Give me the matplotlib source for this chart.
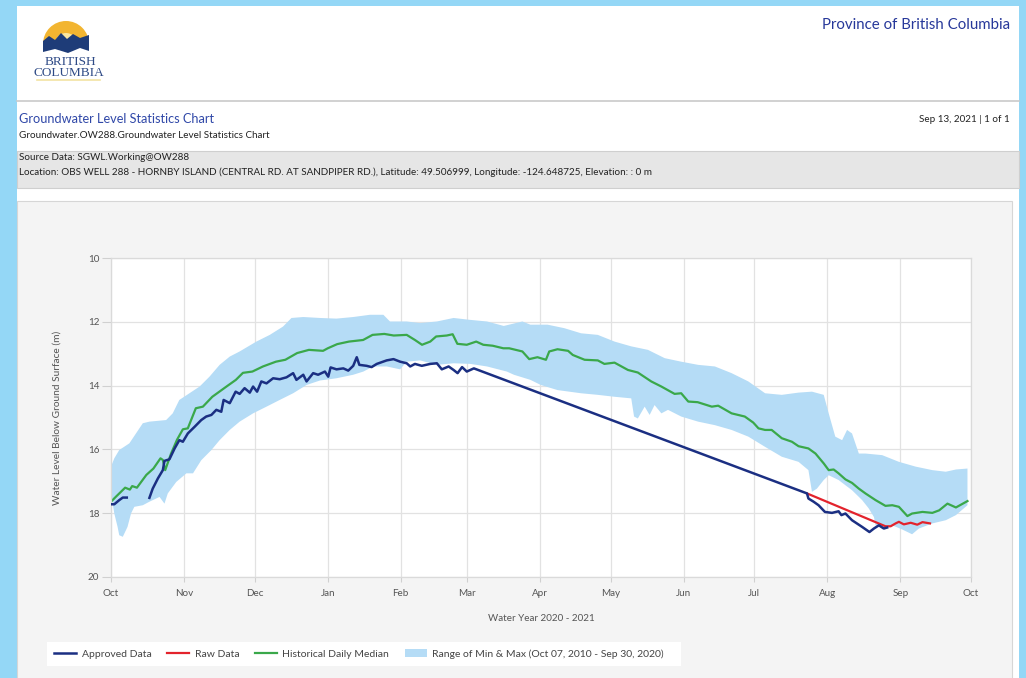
import datetime as dt
import matplotlib
matplotlib.use("Agg")
import matplotlib.pyplot as plt
import matplotlib.dates as mdates
from matplotlib.patches import Rectangle, Wedge, Polygon

plt.rcParams['font.family'] = ['Lato', 'DejaVu Sans']

# ---- data (days since Oct 1, 2020 / metres below ground) ----
median_days = [0, 2, 6, 8, 9, 11, 15, 18, 21, 22, 23, 25.5, 28, 30.5, 32.6, 34, 36, 39, 43, 49,
               53, 56, 60, 64.5, 70, 74, 79, 84, 90, 92, 96, 101, 107, 111, 116, 120, 125.5,
               129, 132, 135.5, 138, 142.5, 145, 147, 151, 155, 158, 162, 166.5, 169, 174.6,
               177.5, 181, 184.6, 186, 189.5, 194, 196, 201, 206.6, 209.4, 213.7, 219.4,
               223.6, 229.3, 233.6, 239.2, 242, 245, 249, 255, 257.7, 263.4, 269, 272.6,
               274.8, 277.6, 280.4, 284.7, 289, 291.8, 296, 299, 302.5, 304.6, 306.7, 308.8,
               311.7, 314.5, 317.4, 320.2, 324.5, 328.7, 331.6, 334.4, 338, 340, 344.4,
               348.6, 351.5, 355, 358.6, 363.5]
median_vals = [17.64, 17.49, 17.2, 17.26, 17.15, 17.2, 16.8, 16.6, 16.28, 16.33, 16.65, 16.13,
               15.7, 15.37, 15.34, 15.08, 14.71, 14.66, 14.35, 14.03, 13.82, 13.6, 13.56, 13.4,
               13.25, 13.19, 12.98, 12.88, 12.91, 12.83, 12.7, 12.62, 12.57, 12.41, 12.38,
               12.43, 12.41, 12.57, 12.72, 12.62, 12.46, 12.43, 12.39, 12.69, 12.72, 12.62,
               12.72, 12.75, 12.83, 12.83, 12.93, 13.17, 13.11, 13.19, 12.93, 12.86, 12.91,
               13.04, 13.19, 13.21, 13.32, 13.28, 13.51, 13.59, 13.87, 14.03, 14.26, 14.24,
               14.5, 14.52, 14.66, 14.63, 14.87, 14.97, 15.16, 15.34, 15.39, 15.39, 15.65,
               15.76, 15.9, 15.97, 16.13, 16.44, 16.65, 16.63, 16.75, 16.94, 17.05, 17.23,
               17.38, 17.59, 17.77, 17.75, 17.8, 18.09, 18.01, 17.96, 17.99, 17.91, 17.7,
               17.82, 17.62]

approved1_days = [0, 1.4, 3.5, 5, 6.7]
approved1_vals = [17.72, 17.72, 17.59, 17.51, 17.51]

approved2_days = [16.3, 17.7, 19.9, 22, 22.7, 24.8, 27, 29, 30.5, 32.6, 35.5, 38.3, 40.4, 42.6,
                  44.7, 46.8, 47.8, 50.4, 52.9, 54.6, 56.7, 58.9, 60.3, 62, 63.8, 66, 68.8,
                  71.6, 74.5, 77.3, 78.7, 81.6, 83, 85.8, 87.9, 90.8, 92.2, 93.2, 95.7, 98.6,
                  100.7, 102.8, 104.3, 105.4, 108.5, 110.6, 112.8, 117, 119.9, 122.7, 125.5,
                  127, 129, 131.9, 135.5, 138.3, 140.4, 143.3, 145.4, 147.1, 149, 151, 154,
                  295.4, 296, 298.2, 300.3, 303, 306, 308.8, 310, 311.7, 314.5, 318.8, 321.9,
                  323.8, 325.9, 328, 329.4]
approved2_vals = [17.52, 17.23, 16.91, 16.65, 16.36, 16.31, 15.97, 15.71, 15.76, 15.5, 15.29,
                  15.08, 14.97, 14.92, 14.76, 14.82, 14.45, 14.55, 14.19, 14.26, 14.08, 14.22,
                  14.03, 14.19, 13.87, 13.93, 13.77, 13.8, 13.74, 13.61, 13.82, 13.66, 13.87,
                  13.61, 13.66, 13.56, 13.72, 13.43, 13.49, 13.46, 13.53, 13.38, 13.11, 13.35,
                  13.38, 13.42, 13.32, 13.21, 13.17, 13.25, 13.3, 13.4, 13.32, 13.38, 13.32,
                  13.3, 13.49, 13.4, 13.51, 13.61, 13.42, 13.56, 13.46,
                  17.38, 17.54, 17.64, 17.75, 17.96, 17.99, 17.94, 18.06, 18.01, 18.22, 18.43,
                  18.59, 18.48, 18.38, 18.48, 18.45]

raw_days = [295.4, 328.7, 330.9, 333, 334.4, 336.5, 339.4, 342.2, 344.4, 347.6]
raw_vals = [17.38, 18.41, 18.41, 18.32, 18.27, 18.35, 18.3, 18.36, 18.28, 18.32]

band_top_days = [0, 1.4, 3.5, 7.8, 10.6, 13.5, 16.3, 23.4, 26.2, 29, 33.3, 37.6, 41.8, 46.1,
                 50.4, 54.6, 61.7, 67.4, 73, 76.6, 81.6, 88.7, 95.7, 102.8, 109.9, 115.6, 118.4,
                 125.5, 131.2, 138.3, 145.4, 152.5, 159.6, 166.7, 174.6, 178, 185.3, 192.4,
                 199.5, 206.6, 213.7, 220.8, 227.9, 235, 242, 249.2, 256.3, 263.4, 270.5,
                 277.6, 284.7, 291.8, 297.5, 302.5, 304.6, 307.4, 310.3, 312.4, 314.5, 317.4,
                 320.2, 327.3, 334.4, 341.5, 348.6, 354.3, 358.6, 363.5]
band_top = [16.54, 16.28, 16.02, 15.81, 15.5, 15.18, 15.13, 15.08, 14.87, 14.45, 14.24, 14.03,
            13.72, 13.35, 13.09, 12.93, 12.62, 12.41, 12.15, 11.88, 11.85, 11.88, 11.9, 11.85,
            11.78, 11.78, 11.99, 11.99, 12.04, 11.99, 11.88, 11.94, 11.99, 12.13, 11.99, 12.09,
            12.09, 12.2, 12.36, 12.41, 12.62, 12.77, 12.88, 13.14, 13.25, 13.35, 13.4, 13.61,
            13.87, 14.24, 14.29, 14.22, 14.19, 14.29, 14.87, 15.6, 15.71, 15.39, 15.5, 16.13,
            16.13, 16.18, 16.39, 16.54, 16.65, 16.7, 16.63, 16.6]

band_bot_days = [0, 1.4, 2.8, 3.5, 5, 7, 8.5, 9.9, 13.5, 16.3, 20.6, 22.7, 24.1, 27.7, 32,
                 34.8, 38.3, 42.6, 46.1, 50.4, 54.6, 60.3, 66, 71.6, 77.3, 83, 88.7, 95.7,
                 102.8, 107.1, 111.3, 117, 122.7, 125.5, 131.2, 138.3, 145.4, 152.5, 159.6,
                 168, 171, 178, 182.4, 189.5, 199.5, 206.6, 213.7, 220.8, 222, 223.6, 226.5,
                 228.6, 230.7, 233.6, 236.4, 242, 249.2, 256.3, 263.4, 270.5, 277.6, 284.7,
                 291.8, 296, 297.5, 299.6, 302.5, 304.6, 308.8, 314.5, 318.8, 321.6, 323.8,
                 324.5, 327.3, 331.6, 335.8, 340, 342.9, 348.6, 354.3, 358.6, 363.5]
band_bot = [17.38, 18.01, 18.43, 18.69, 18.74, 18.43, 18.01, 17.8, 17.75, 17.64, 17.49, 17.7,
            17.38, 17.02, 16.75, 16.75, 16.34, 16.02, 15.71, 15.39, 15.13, 14.87, 14.66,
            14.45, 14.24, 13.98, 13.84, 13.77, 13.66, 13.56, 13.4, 13.4, 13.49, 13.25, 13.21,
            13.35, 13.3, 13.32, 13.4, 13.56, 13.66, 13.82, 13.98, 14.14, 14.24, 14.29, 14.35,
            14.4, 14.97, 15.03, 14.66, 14.92, 14.61, 14.87, 14.76, 14.97, 15.13, 15.24, 15.39,
            15.6, 15.92, 16.23, 16.39, 16.65, 17.33, 17.23, 16.96, 16.81, 16.96, 17.28, 17.59,
            17.85, 18.12, 18.38, 18.43, 18.38, 18.51, 18.66, 18.48, 18.32, 18.22, 18.06, 17.75]

start = mdates.date2num(dt.datetime(2020, 10, 1))
def to_dates(days):
    return [start + d for d in days]

NAVY = '#1b2f82'
RED = '#e3232c'
GREEN = '#3aa84a'
BAND = '#b5dcf6'
SMALL = 7.1

fig = plt.figure(figsize=(10.26, 6.78), dpi=100)
fig.patch.set_facecolor('#94d7f6')

# page decorations in pixel coordinates
bg = fig.add_axes([0, 0, 1, 1], zorder=0)
bg.set_xlim(0, 1026)
bg.set_ylim(678, 0)
bg.axis('off')
bg.add_patch(Rectangle((17, 6), 1002, 680, facecolor='white', edgecolor='none'))
bg.plot([17, 1019], [101, 101], color='#c9c9c9', lw=1.2)
bg.add_patch(Rectangle((17, 151), 1002, 37, facecolor='#e6e6e6', edgecolor='#cfcfcf', lw=0.8))
bg.add_patch(Rectangle((17, 201), 995, 480, facecolor='#f4f4f4', edgecolor='#d6d6d6', lw=0.8))
bg.add_patch(Rectangle((47, 642), 634, 24, facecolor='white', edgecolor='none'))

# logo
bg.add_patch(Wedge((66, 44), 23, 180, 360, facecolor='#f2b531', edgecolor='none'))
bg.add_patch(Wedge((66, 44), 11, 180, 360, facecolor='#fbe7a0', edgecolor='none'))
bg.add_patch(Polygon([(43, 41), (49, 36), (55, 40), (61, 33), (67, 39), (73, 34), (80, 38),
                      (89, 35), (89, 51), (80, 48), (68, 53), (55, 49), (43, 52)],
                     closed=True, facecolor='#1e3c78', edgecolor='none'))
bg.text(70, 62, 'BRITISH', family='Liberation Serif', fontsize=9.5, color='#2e4a86',
        ha='center', va='center')
bg.text(69, 73, 'COLUMBIA', family='Liberation Serif', fontsize=9.5, color='#2e4a86',
        ha='center', va='center')
bg.plot([37, 100], [80, 80], color='#f2e3a3', lw=1.2)

bg.text(1010, 25, 'Province of British Columbia', fontsize=10.8, color='#27389a',
        ha='right', va='center')
bg.text(19, 119, 'Groundwater Level Statistics Chart', fontsize=9.2, color='#3048a8',
        ha='left', va='center')
bg.text(19, 135, 'Groundwater.OW288.Groundwater Level Statistics Chart', fontsize=SMALL,
        color='#222222', ha='left', va='center')
bg.text(1010, 120, 'Sep 13, 2021 | 1 of 1', fontsize=SMALL, color='#222222', ha='right',
        va='center')
bg.text(19, 158, 'Source Data: SGWL.Working@OW288', fontsize=SMALL, color='#222222',
        ha='left', va='center')
bg.text(19, 172, 'Location: OBS WELL 288 - HORNBY ISLAND (CENTRAL RD. AT SANDPIPER RD.), '
        'Latitude: 49.506999, Longitude: -124.648725, Elevation: : 0 m', fontsize=SMALL,
        color='#222222', ha='left', va='center')

# chart
ax = fig.add_axes([111 / 1026, 1 - 577 / 678, 860 / 1026, 319 / 678], zorder=1)
ax.set_facecolor('white')

band_x = to_dates(band_top_days) + to_dates(band_bot_days)[::-1]
band_y = band_top + band_bot[::-1]
band, = ax.fill(band_x, band_y, color=BAND, lw=0, zorder=1)
med, = ax.plot(to_dates(median_days), median_vals, color=GREEN, lw=1.6, zorder=2)
raw, = ax.plot(to_dates(raw_days), raw_vals, color=RED, lw=1.6, zorder=3)
ax.plot(to_dates(approved1_days), approved1_vals, color=NAVY, lw=1.8, zorder=4)
appr, = ax.plot(to_dates(approved2_days), approved2_vals, color=NAVY, lw=1.8, zorder=4)

ax.set_xlim(start, mdates.date2num(dt.datetime(2021, 10, 1)))
ax.set_ylim(20, 10)
ax.set_yticks([10, 12, 14, 16, 18, 20])
ax.xaxis.set_major_locator(mdates.MonthLocator())
ax.xaxis.set_major_formatter(mdates.DateFormatter('%b'))
ax.grid(True, color='#e2e2e2', lw=0.9)
ax.set_axisbelow(True)
for s in ax.spines.values():
    s.set_color('#dadada')
    s.set_linewidth(0.9)
ax.tick_params(axis='y', length=6.5, color='#d0d0d0', labelsize=SMALL, labelcolor='#555555', pad=2)
ax.tick_params(axis='x', length=3.5, color='#d0d0d0', labelsize=SMALL, labelcolor='#555555', pad=5)
ax.set_ylabel('Water Level Below Ground Surface (m)', fontsize=7.3, color='#555555', labelpad=19)
ax.set_xlabel('Water Year 2020 - 2021', fontsize=SMALL, color='#555555', labelpad=12)

leg = fig.legend([appr, raw, med, band],
                 ['Approved Data', 'Raw Data', 'Historical Daily Median',
                  'Range of Min & Max (Oct 07, 2010 - Sep 30, 2020)'],
                 loc='center left', bbox_to_anchor=(54 / 1026, 1 - 654 / 678), ncol=4,
                 frameon=False, fontsize=7.5, handlelength=2.1, handletextpad=0.55,
                 columnspacing=1.5, borderaxespad=0, borderpad=0)
for t in leg.get_texts():
    t.set_color('#444444')

fig.savefig('out.png', dpi=100)
